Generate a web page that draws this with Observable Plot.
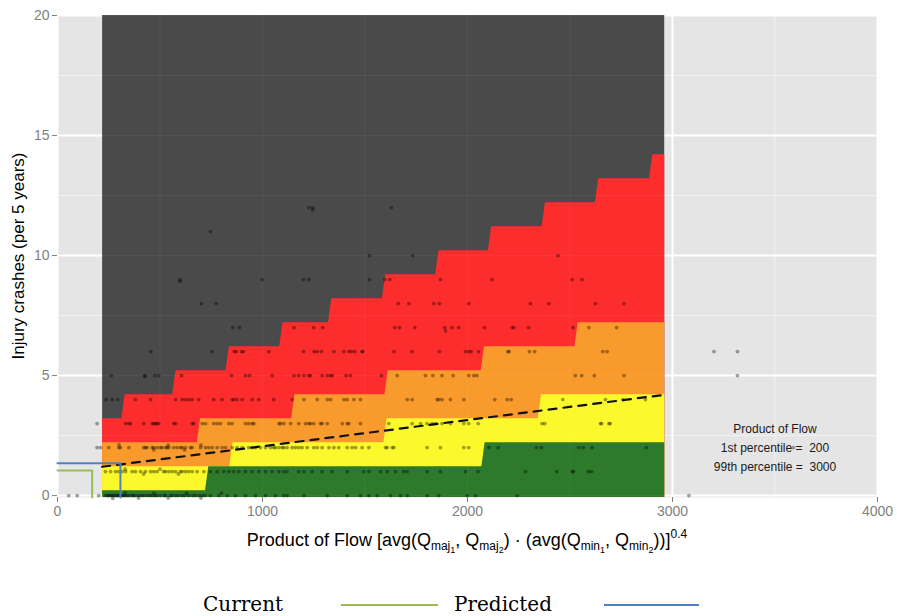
<!DOCTYPE html>
<html>
<head>
<meta charset="utf-8">
<script src="https://cdn.jsdelivr.net/npm/d3@7"></script>
<script src="https://cdn.jsdelivr.net/npm/@observablehq/plot@0.6"></script>
<style>
  html, body { margin: 0; padding: 0; background: #fff; }
  #chart svg { display: block; }
  #legend { display: block; }
</style>
</head>
<body>
<div id="chart"></div>
<svg id="legend" width="897" height="46"></svg>
<script>
// ---- axes ----
const xTicks = [0, 1000, 2000, 3000, 4000];
const yTicks = [0, 5, 10, 15, 20];
const xMinor = [500, 1500, 2500, 3500];
const yMinor = [2.5, 7.5, 12.5, 17.5];

// ---- band limits (1st / 99th percentile of product of flow) ----
const bandStart = 220;
const bandEnd = 2962;
const bandFloor = -0.08;
const darkTop = 20;

// step boundaries: level values and the flow where each step rises
const redLevels = [3.2, 4.2, 5.2, 6.2, 7.2, 8.2, 9.2, 10.2, 11.2, 12.2, 13.2, 14.2];
const redBreaks = [322, 570, 830, 1092, 1330, 1593, 1853, 2110, 2372, 2632, 2896];
const orangeLevels = [2.2, 3.2, 4.2, 5.2, 6.2, 7.2];
const orangeBreaks = [690, 1150, 1605, 2075, 2532];
const yellowLevels = [1.2, 2.2, 3.2, 4.2];
const yellowBreaks = [848, 1600, 2353];
const greenLevels = [0.2, 1.2, 2.2];
const greenBreaks = [730, 2078];

// ---- dashed mean line ----
const trendX = [218, 2962];
const trendY = [1.2, 4.2];

// ---- current / predicted markers ----
const currentFlow = 169, currentCrashes = 1.05;
const predictedFlow = 307, predictedCrashes = 1.35;

// ---- annotation ----
const noteLines = ["Product of Flow", "1st percentile =\u00a0 200", "99th percentile =\u00a0 3000"];
const noteY = [2.75, 1.96, 1.2];
const noteX = 3500;

// ---- observed sites: flow values per crash count ----
const pts0 = [55, 96, 201, 234, 245, 250, 260, 267, 275, 285, 291, 300, 307, 315, 323, 330, 340, 350, 364, 370, 380, 397, 410, 421, 437, 450, 462, 475, 486, 502, 520, 527, 551, 560, 576, 590, 608, 620, 640, 660, 673, 690, 706, 720, 746, 787, 828, 868, 917, 966, 1015, 1063, 1104, 1120, 1202, 1316, 1413, 1478, 1519, 1559, 1624, 1673, 1706, 1803, 1860, 1998, 2039, 2242, 3080];
const pts1 = [234, 259, 283, 299, 315, 332, 364, 380, 405, 429, 454, 470, 486, 518, 527, 543, 559, 576, 600, 608, 624, 640, 657, 681, 714, 746, 779, 811, 836, 860, 884, 917, 950, 982, 1015, 1047, 1080, 1104, 1120, 1177, 1202, 1242, 1291, 1340, 1413, 1494, 1519, 1576, 1608, 1649, 1689, 1706, 1803, 1868, 1990, 2052, 2283, 2436, 2511, 2517, 2589, 2605];
const pts2 = [193, 210, 250, 299, 307, 348, 421, 429, 437, 462, 470, 486, 502, 510, 527, 535, 543, 567, 584, 600, 608, 624, 649, 657, 698, 722, 738, 755, 779, 803, 820, 852, 876, 901, 933, 950, 966, 990, 1015, 1039, 1055, 1063, 1080, 1096, 1104, 1120, 1145, 1161, 1177, 1193, 1218, 1250, 1267, 1291, 1324, 1348, 1372, 1413, 1437, 1454, 1486, 1519, 1600, 1608, 1633, 1641, 1803, 1868, 1982, 2006, 2104, 2150, 2337, 2361, 2543, 2564, 2608, 2872, 3590];
const pts3 = [193, 332, 348, 356, 421, 462, 470, 478, 486, 494, 567, 576, 657, 665, 706, 722, 762, 779, 795, 836, 852, 917, 933, 950, 958, 1080, 1088, 1104, 1137, 1177, 1210, 1226, 1234, 1250, 1283, 1291, 1316, 1389, 1413, 1421, 1478, 1616, 1730, 1771, 1803, 1828, 1844, 1876, 1917, 1982, 2006, 2052, 2364, 2377, 2649, 2654, 2690, 2696];
const pts4 = [237, 267, 294, 380, 454, 576, 608, 624, 640, 657, 689, 762, 803, 852, 860, 876, 901, 950, 982, 1055, 1145, 1202, 1267, 1316, 1332, 1397, 1413, 1446, 1478, 1706, 1730, 1852, 1860, 1876, 1917, 1982, 2133, 2193, 2213, 2465, 2673, 2758, 2868];
const pts5 = [263, 426, 475, 494, 605, 849, 917, 937, 1047, 1153, 1177, 1202, 1226, 1234, 1291, 1316, 1332, 1340, 1408, 1429, 1580, 1657, 1795, 1831, 1876, 1930, 2006, 2031, 2046, 2526, 2557, 2619, 2763, 3317];
const pts6 = [455, 754, 862, 872, 898, 907, 1031, 1200, 1252, 1267, 1288, 1348, 1397, 1421, 1434, 1450, 1486, 1489, 1641, 1730, 1863, 1990, 2006, 2018, 2054, 2197, 2203, 2302, 2328, 2660, 2681, 3202, 3317];
const pts7 = [855, 888, 1153, 1250, 1294, 1645, 1668, 1743, 1889, 1925, 1957, 2083, 2218, 2226, 2298, 2515, 2592, 2727];
const pts8 = [702, 774, 1662, 1714, 1836, 1863, 2006, 2307, 2397, 2624, 2763];
const pts9 = [597, 998, 1200, 1226, 1522, 1597, 1621, 1868, 2120, 2511, 2559];
const pts10 = [1522, 1733, 2441];
const pts11 = [746];
const pts12 = [1226, 1245, 1629];
// small vertical offsets for a few stacked sites
const ptsExtra = [[426, 4.96], [597, 8.93], [1893, 6.86], [1245, 11.9], [270, -0.12], [330, 0.12], [395, -0.1], [470, 0.1], [540, -0.1], [630, 0.1], [700, -0.1], [800, 0.1], [300, 2.12], [470, 1.9], [540, 2.1], [620, 1.9], [700, 2.1], [330, 1.1], [420, 0.9], [500, 1.1], [590, 0.9]];

const rows = [pts0, pts1, pts2, pts3, pts4, pts5, pts6, pts7, pts8, pts9, pts10, pts11, pts12];
const sites = rows.flatMap((xs, k) => xs.map(x => ({x, y: k}))).concat(ptsExtra.map(([x, y]) => ({x, y})));

// step outline builder (short slanted risers like the original rendering)
const riser = 8;
function stepOutline(levels, breaks) {
  const pts = [{x: bandStart, y: levels[0]}];
  breaks.forEach((b, i) => {
    pts.push({x: b - riser, y: levels[i]});
    pts.push({x: b + riser, y: levels[i + 1]});
  });
  pts.push({x: bandEnd, y: levels[levels.length - 1]});
  return pts;
}

const bands = [
  {levels: redLevels, breaks: redBreaks, fill: "#fd2d2e"},
  {levels: orangeLevels, breaks: orangeBreaks, fill: "#f89b2c"},
  {levels: yellowLevels, breaks: yellowBreaks, fill: "#fbf92b"},
  {levels: greenLevels, breaks: greenBreaks, fill: "#2d7a2c"}
];

const markerLine = (fx, cy) => [{x: 0, y: cy}, {x: fx, y: cy}, {x: fx, y: bandFloor}];

const chart = Plot.plot({
  width: 897,
  height: 570,
  marginLeft: 57,
  marginRight: 20,
  marginTop: 15,
  marginBottom: 73,
  x: {domain: [0, 4000]},
  y: {domain: [bandFloor, 20]},
  style: {fontFamily: "'Liberation Sans', Arial, sans-serif", background: "#fff"},
  marks: [
    Plot.frame({fill: "#e5e5e5", stroke: null}),
    Plot.ruleX(xMinor, {stroke: "#f2f2f2", strokeWidth: 1}),
    Plot.ruleY(yMinor, {stroke: "#f2f2f2", strokeWidth: 1}),
    Plot.ruleX(xTicks, {stroke: "#ffffff", strokeWidth: 2}),
    Plot.ruleY(yTicks, {stroke: "#ffffff", strokeWidth: 2}),
    Plot.rect([{x1: bandStart, x2: bandEnd, y1: bandFloor, y2: darkTop}], {x1: "x1", x2: "x2", y1: "y1", y2: "y2", fill: "#4a4a4a"}),
    ...bands.map(b => Plot.areaY(stepOutline(b.levels, b.breaks), {x: "x", y1: () => bandFloor, y2: "y", fill: b.fill})),
    Plot.ruleX(xTicks.concat(xMinor), {stroke: "#ffffff", strokeOpacity: 0.05, strokeWidth: 1}),
    Plot.ruleY(yTicks.concat(yMinor), {stroke: "#ffffff", strokeOpacity: 0.05, strokeWidth: 1}),
    Plot.line(trendX.map((x, i) => ({x, y: trendY[i]})), {x: "x", y: "y", stroke: "#111", strokeWidth: 2.2, strokeDasharray: "8,7"}),
    Plot.dot(sites, {x: "x", y: "y", r: 1.9, fill: "#000", fillOpacity: 0.36, stroke: null}),
    Plot.line(markerLine(currentFlow, currentCrashes), {x: "x", y: "y", stroke: "#9bbb59", strokeWidth: 2, clip: false}),
    Plot.line(markerLine(predictedFlow, predictedCrashes), {x: "x", y: "y", stroke: "#4f81bd", strokeWidth: 2, clip: false}),
    Plot.text(noteLines, {x: () => noteX, y: (d, i) => noteY[i], text: d => d, fontSize: 12, fill: "#1a1a1a", textAnchor: "middle"}),
    Plot.axisX({ticks: xTicks, tickSize: 5, tickPadding: 4, fontSize: 14, color: "#7f7f7f", label: null, tickFormat: d => String(d)}),
    Plot.axisY({ticks: yTicks, tickSize: 5, tickPadding: 3, fontSize: 14, color: "#7f7f7f", label: null, tickFormat: d => String(d)})
  ]
});

document.getElementById("chart").appendChild(chart);

// axis titles with sub/superscripts
const svg = d3.select(chart);
const xt = svg.append("text")
  .attr("x", 467).attr("y", 546)
  .attr("text-anchor", "middle")
  .attr("font-size", 18)
  .attr("fill", "#000")
  .attr("font-family", "'Liberation Sans', Arial, sans-serif");
const parts = [
  ["Product of Flow [avg(", 18, 0],
  ["Q", 18, 0], ["maj", 12, 4], ["1", 9, 3], [", ", 18, -7],
  ["Q", 18, 0], ["maj", 12, 4], ["2", 9, 3], [") \u00b7 (avg(", 18, -7],
  ["Q", 18, 0], ["min", 12, 4], ["1", 9, 3], [", ", 18, -7],
  ["Q", 18, 0], ["min", 12, 4], ["2", 9, 3], ["))]", 18, -7],
  ["0.4", 12, -8], ["", 18, 8]
];
parts.forEach(([t, fs, dy]) => xt.append("tspan").attr("font-size", fs).attr("dy", dy).text(t));

svg.append("text")
  .attr("transform", "translate(24,256) rotate(-90)")
  .attr("text-anchor", "middle")
  .attr("font-size", 17)
  .attr("fill", "#000")
  .attr("font-family", "'Liberation Sans', Arial, sans-serif")
  .text("Injury crashes (per 5 years)");

// legend below the chart
const legendItems = [
  {label: "Current", textX: 203, lineX1: 341, lineX2: 438, color: "#9bbb59"},
  {label: "Predicted", textX: 454, lineX1: 604, lineX2: 699, color: "#4f81bd"}
];
const lg = d3.select("#legend");
legendItems.forEach(it => {
  lg.append("text").attr("x", it.textX).attr("y", 41)
    .attr("font-family", "'DejaVu Serif', Georgia, serif").attr("font-size", 20).attr("fill", "#000")
    .text(it.label);
  lg.append("line").attr("x1", it.lineX1).attr("x2", it.lineX2).attr("y1", 35).attr("y2", 35)
    .attr("stroke", it.color).attr("stroke-width", 2);
});
</script>
</body>
</html>
